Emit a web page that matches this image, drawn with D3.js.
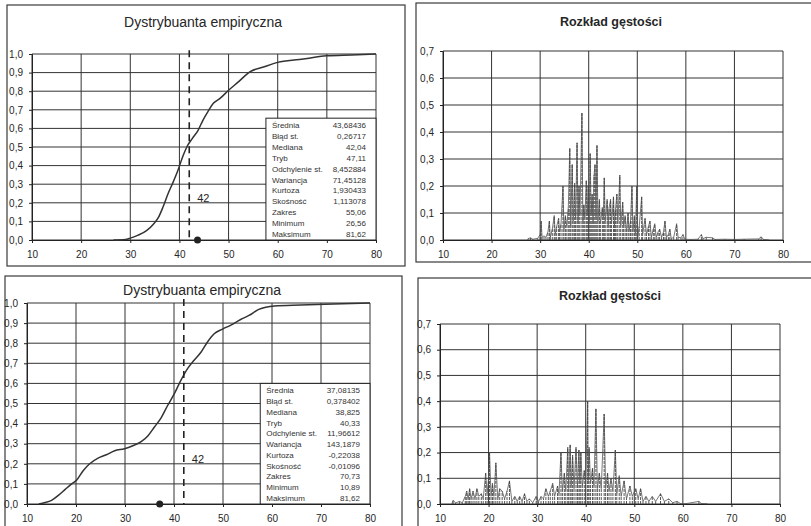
<!DOCTYPE html>
<html>
<head>
<meta charset="utf-8">
<script src="https://cdn.jsdelivr.net/npm/d3@7"></script>
<style>
  html, body { margin: 0; padding: 0; background: #fff; }
  svg { display: block; font-family: "Liberation Sans", Arial, sans-serif; }
</style>
</head>
<body>
<svg id="chart" width="811" height="526"></svg>
<script>
// ---- data ----------------------------------------------------------
const xTicks = [10, 20, 30, 40, 50, 60, 70, 80];
const cdfYTicks = [0, 0.1, 0.2, 0.3, 0.4, 0.5, 0.6, 0.7, 0.8, 0.9, 1.0];
const densYTicks = [0, 0.1, 0.2, 0.3, 0.4, 0.5, 0.6, 0.7];

// empirical CDF, sample A
const cdfAX = [26.6, 29, 30, 31.5, 33.3, 34.7, 35.7, 36.7, 37.7, 38.7, 39.7, 40.7, 41.5, 42.6, 43.8, 44.8, 45.8, 46.9, 48.2, 50, 52, 54.4, 57.1, 60, 64.4, 70, 75, 80];
const cdfAY = [0, 0.003, 0.01, 0.025, 0.05, 0.085, 0.12, 0.18, 0.25, 0.31, 0.375, 0.45, 0.5, 0.545, 0.59, 0.645, 0.69, 0.735, 0.76, 0.805, 0.85, 0.905, 0.93, 0.955, 0.97, 0.99, 0.995, 1.0];

// empirical CDF, sample B
const cdfBX = [12.4, 13.7, 15, 16.4, 17.8, 19.1, 20.1, 21.5, 22.8, 24.5, 26.2, 27.9, 29.9, 31.6, 33.3, 34.7, 36, 37.4, 38.7, 40.1, 41.4, 42.8, 44.1, 45.5, 46.8, 48.2, 49.9, 51.6, 53.6, 55.3, 57.3, 60.5, 65.8, 72.5, 80];
const cdfBY = [0, 0.007, 0.018, 0.043, 0.073, 0.1, 0.118, 0.167, 0.2, 0.228, 0.245, 0.265, 0.275, 0.29, 0.31, 0.34, 0.383, 0.43, 0.49, 0.55, 0.615, 0.675, 0.715, 0.755, 0.805, 0.847, 0.87, 0.89, 0.918, 0.938, 0.968, 0.985, 0.99, 0.995, 1.0];

// density, sample A (rows of ten points)
const densAX = [
  27.5, 28, 28.5, 29.5, 30, 30.2, 30.4, 30.8, 31.2, 31.6,
  31.9, 32.1, 32.5, 32.9, 33.1, 33.4, 33.8, 34.0, 34.3, 34.7,
  34.9, 35.2, 35.5, 35.8, 36.1, 36.3, 36.6, 36.8, 37.1, 37.3,
  37.6, 37.8, 38.0, 38.2, 38.6, 38.8, 39.0, 39.2, 39.5, 39.7,
  39.9, 40.1, 40.3, 40.5, 40.7, 40.9, 41.1, 41.3, 41.5, 41.7,
  41.9, 42.2, 42.4, 42.8, 43.0, 43.2, 43.4, 43.8, 44.0, 44.2,
  44.5, 44.7, 45.1, 45.3, 45.5, 45.8, 46.0, 46.4, 46.6, 47.0,
  47.2, 47.5, 47.8, 48.1, 48.3, 48.6, 48.9, 49.1, 49.4, 49.6,
  49.9, 50.1, 50.4, 50.9, 51.1, 51.6, 51.9, 52.3, 52.6, 52.9,
  53.3, 53.6, 53.9, 54.3, 54.6, 55.0, 55.4, 55.7, 56.0, 56.4,
  56.7, 57.0, 57.5, 58.1, 58.4, 59.0, 59.4, 59.8, 61, 62.5,
  63.2, 63.5, 64.2, 65.5, 66, 68, 70, 72, 75, 75.5,
  76, 77];
const densAY = [
  0.005, 0.008, 0.003, 0.006, 0.02, 0.07, 0.01, 0.015, 0.01, 0.03,
  0.07, 0.01, 0.04, 0.09, 0.02, 0.05, 0.08, 0.03, 0.06, 0.2,
  0.04, 0.09, 0.05, 0.12, 0.34, 0.05, 0.28, 0.07, 0.21, 0.08,
  0.36, 0.06, 0.2, 0.09, 0.47, 0.07, 0.13, 0.08, 0.22, 0.09,
  0.2, 0.07, 0.32, 0.1, 0.17, 0.06, 0.24, 0.28, 0.08, 0.35,
  0.07, 0.15, 0.06, 0.12, 0.08, 0.23, 0.07, 0.15, 0.05, 0.12,
  0.15, 0.06, 0.16, 0.05, 0.11, 0.17, 0.06, 0.24, 0.05, 0.14,
  0.05, 0.09, 0.03, 0.1, 0.03, 0.07, 0.2, 0.03, 0.09, 0.02,
  0.2, 0.01, 0.05, 0.16, 0.02, 0.08, 0.02, 0.05, 0.07, 0.01,
  0.04, 0.06, 0.01, 0.03, 0.04, 0.01, 0.03, 0.07, 0.01, 0.02,
  0.04, 0.005, 0.01, 0.06, 0.01, 0.008, 0.02, 0.003, 0.002, 0.003,
  0.02, 0.005, 0.01, 0.008, 0.002, 0.003, 0.002, 0.003, 0.004, 0.012,
  0.002, 0.001];

// density, sample B (rows of ten points)
const densBX = [
  12.5, 12.7, 13.2, 14, 14.6, 15.2, 15.5, 15.8, 16.1, 16.4,
  16.8, 17.2, 17.6, 18.0, 18.5, 18.9, 19.4, 19.7, 20.0, 20.2,
  20.5, 20.8, 21.1, 21.5, 21.9, 22.3, 22.8, 23.3, 23.8, 24.3,
  24.8, 25.4, 25.9, 26.4, 26.9, 27.4, 27.9, 28.4, 29.1, 29.8,
  30.3, 30.8, 31.3, 31.8, 32.3, 32.7, 33.2, 33.6, 34.2, 34.5,
  34.9, 35.2, 35.6, 35.9, 36.3, 36.5, 36.8, 37.0, 37.3, 37.6,
  38.0, 38.3, 38.6, 38.8, 39.0, 39.3, 39.7, 40.0, 40.4, 40.5,
  40.7, 41.0, 41.4, 41.7, 42.1, 42.4, 42.8, 43.2, 43.8, 44.1,
  44.5, 44.8, 45.2, 45.6, 46.1, 46.4, 46.9, 47.3, 47.9, 48.4,
  49.1, 49.6, 50.3, 50.8, 51.3, 51.8, 52.4, 53.0, 53.7, 54.4,
  55.4, 56.2, 57.1, 57.9, 58.8, 59.5, 60.5, 63.3, 63.8, 65];
const densBY = [
  0.003, 0.015, 0.004, 0.01, 0.005, 0.03, 0.05, 0.02, 0.06, 0.02,
  0.05, 0.02, 0.06, 0.03, 0.04, 0.02, 0.12, 0.04, 0.1, 0.2,
  0.03, 0.08, 0.03, 0.16, 0.02, 0.06, 0.05, 0.02, 0.05, 0.09,
  0.01, 0.03, 0.01, 0.03, 0.01, 0.04, 0.01, 0.02, 0.005, 0.03,
  0.01, 0.03, 0.02, 0.06, 0.03, 0.05, 0.08, 0.03, 0.07, 0.04,
  0.2, 0.05, 0.12, 0.05, 0.22, 0.06, 0.23, 0.07, 0.19, 0.06,
  0.22, 0.07, 0.21, 0.08, 0.2, 0.07, 0.13, 0.08, 0.4, 0.09,
  0.22, 0.08, 0.14, 0.07, 0.37, 0.06, 0.12, 0.06, 0.35, 0.06,
  0.12, 0.05, 0.1, 0.05, 0.21, 0.04, 0.11, 0.03, 0.09, 0.02,
  0.07, 0.03, 0.06, 0.02, 0.06, 0.01, 0.03, 0.01, 0.03, 0.01,
  0.04, 0.01, 0.02, 0.005, 0.01, 0.002, 0.001, 0.01, 0.002, 0.001];

// descriptive statistics
const statLabelsA = ["Średnia", "Błąd st.", "Mediana", "Tryb", "Odchylenie st.", "Wariancja", "Kurtoza", "Skośność", "Zakres", "Minimum", "Maksimum"];
const statValuesA = ["43,68436", "0,26717", "42,04", "47,11", "8,452884", "71,45128", "1,930433", "1,113078", "55,06", "26,56", "81,62"];
const statLabelsB = ["Średnia", "Błąd st.", "Mediana", "Tryb", "Odchylenie st.", "Wariancja", "Kurtoza", "Skośność", "Zakres", "Minimum", "Maksimum"];
const statValuesB = ["37,08135", "0,378402", "38,825", "40,33", "11,96612", "143,1879", "-0,22038", "-0,01096", "70,73", "10,89", "81,62"];

const meanA = 43.68436, meanB = 37.08135;
const markerValue = 42;

// ---- drawing --------------------------------------------------------
const svg = d3.select("#chart");
const ink = "#262626";
const fmt = d => d3.format(".1f")(d).replace(".", ",");

function panel(cfg) {
  const g = svg.append("g");
  g.append("rect")
    .attr("x", cfg.frame[0]).attr("y", cfg.frame[1])
    .attr("width", cfg.frame[2]).attr("height", cfg.frame[3])
    .attr("fill", "none").attr("stroke", "#3a3a3a").attr("stroke-width", 1.2);

  const x = d3.scaleLinear().domain([10, 80]).range([cfg.px0, cfg.px1]);
  const y = d3.scaleLinear().domain([0, cfg.ymax]).range([cfg.py1, cfg.py0]);

  g.append("text")
    .attr("x", cfg.titleX).attr("y", cfg.titleY)
    .attr("text-anchor", "middle")
    .attr("font-size", cfg.titleSize).attr("font-weight", cfg.titleWeight)
    .attr("fill", ink).text(cfg.title);

  // grid
  const grid = g.append("g").attr("stroke", "#333").attr("stroke-width", 1);
  grid.selectAll("line.v").data(xTicks).join("line").attr("class", "v")
    .attr("x1", d => x(d)).attr("x2", d => x(d))
    .attr("y1", y(cfg.ymax)).attr("y2", y(0));
  grid.selectAll("line.h").data(cfg.yTicks).join("line").attr("class", "h")
    .attr("x1", x(10)).attr("x2", x(80))
    .attr("y1", d => y(d)).attr("y2", d => y(d));

  // axes
  const ya = g.append("g").attr("transform", `translate(${x(10)},0)`)
    .call(d3.axisLeft(y).tickValues(cfg.yTicks).tickFormat(fmt).tickSize(3).tickPadding(6));
  const xa = g.append("g").attr("transform", `translate(0,${y(0)})`)
    .call(d3.axisBottom(x).tickValues(xTicks).tickFormat(d3.format("d")).tickSize(3).tickPadding(8));
  [ya, xa].forEach(a => {
    a.select(".domain").attr("stroke", "#222");
    a.selectAll(".tick line").attr("stroke", "#222");
    a.selectAll("text").attr("font-size", 10).attr("fill", ink)
      .attr("font-family", "'Liberation Sans', Arial, sans-serif");
  });
  return { g, x, y };
}

function statsBox(p, x0, y1, labels, values) {
  const { g, x, y } = p;
  const bx = x(x0), by = y(y1), bw = x(80) - x(x0), bh = y(0) - y(y1);
  g.append("rect").attr("x", bx).attr("y", by).attr("width", bw).attr("height", bh)
    .attr("fill", "#fff").attr("stroke", "#222").attr("stroke-width", 1);
  const step = (bh - 13) / (labels.length - 1);
  labels.forEach((l, i) => {
    g.append("text").attr("x", bx + 6).attr("y", by + 10 + i * step)
      .attr("font-size", 8).attr("fill", "#333").text(l);
    g.append("text").attr("x", bx + bw - 10).attr("y", by + 10 + i * step)
      .attr("text-anchor", "end").attr("font-size", 8).attr("fill", "#333").text(values[i]);
  });
}

function cdfPanel(cfg, xs, ys, mean, labelY, labels, values, boxX, boxY) {
  const p = panel(cfg);
  const { g, x, y } = p;
  const pts = xs.map((d, i) => [d, ys[i]]);
  g.append("path").datum(pts)
    .attr("fill", "none").attr("stroke", "#333").attr("stroke-width", 1.5)
    .attr("d", d3.line().x(d => x(d[0])).y(d => y(d[1])).curve(d3.curveMonotoneX));
  statsBox(p, boxX, boxY, labels, values);
  g.append("line")
    .attr("x1", x(markerValue)).attr("x2", x(markerValue))
    .attr("y1", y(1.02)).attr("y2", y(0))
    .attr("stroke", "#222").attr("stroke-width", 1.6).attr("stroke-dasharray", "7,5");
  g.append("text").attr("x", x(markerValue) + 8).attr("y", y(labelY) + 5)
    .attr("font-size", 11).attr("fill", ink).text(String(markerValue));
  g.append("circle").attr("cx", x(mean)).attr("cy", y(0)).attr("r", 3.5).attr("fill", "#222");
}

function densPanel(cfg, xs, ys) {
  const { g, x, y } = panel(cfg);
  const pts = xs.map((d, i) => [d, ys[i]]);
  g.append("path").datum(pts)
    .attr("fill", "none").attr("stroke", "#555").attr("stroke-width", 0.8)
    .attr("d", d3.line().x(d => x(d[0])).y(d => y(d[1])));
  g.selectAll("line.needle").data(pts).join("line").attr("class", "needle")
    .attr("x1", d => x(d[0])).attr("x2", d => x(d[0]))
    .attr("y1", y(0)).attr("y2", d => y(d[1]))
    .attr("stroke", "#444").attr("stroke-width", 0.9).attr("stroke-dasharray", "3,1");
}

cdfPanel({ frame: [7, 5, 398, 261], px0: 32, px1: 376, py0: 54, py1: 240, ymax: 1, yTicks: cdfYTicks,
           title: "Dystrybuanta empiryczna", titleX: 203, titleY: 27, titleSize: 14, titleWeight: "normal" },
         cdfAX, cdfAY, meanA, 0.23, statLabelsA, statValuesA, 57.6, 0.655);

densPanel({ frame: [416, 3, 400, 259], px0: 443, px1: 783, py0: 51, py1: 240, ymax: 0.7, yTicks: densYTicks,
            title: "Rozkład gęstości", titleX: 611, titleY: 26, titleSize: 12.5, titleWeight: "bold" },
          densAX, densAY);

cdfPanel({ frame: [5, 276, 397, 255], px0: 27, px1: 370, py0: 303, py1: 504, ymax: 1, yTicks: cdfYTicks,
           title: "Dystrybuanta empiryczna", titleX: 202, titleY: 295, titleSize: 14, titleWeight: "normal" },
         cdfBX, cdfBY, meanB, 0.23, statLabelsB, statValuesB, 57.6, 0.6);

densPanel({ frame: [418, 278, 400, 255], px0: 440, px1: 780, py0: 324, py1: 504, ymax: 0.7, yTicks: densYTicks,
            title: "Rozkład gęstości", titleX: 610, titleY: 300, titleSize: 12.5, titleWeight: "bold" },
          densBX, densBY);
</script>
</body>
</html>
